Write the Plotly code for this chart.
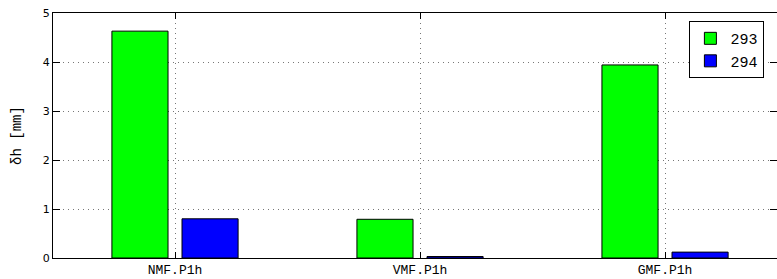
import plotly.graph_objects as go

categories = ["NMF.P1h", "VMF.P1h", "GMF.P1h"]
series_293 = [4.63, 0.79, 3.94]
series_294 = [0.80, 0.03, 0.12]
series_names = ["293", "294"]
colors = ["#00ff00", "#0000ff"]
y_ticks = [0, 1, 2, 3, 4, 5]

xpos = list(range(len(categories)))

fig = go.Figure()
for name, vals, col, off in zip(series_names, [series_293, series_294], colors, [-0.2575, 0.0285]):
    fig.add_trace(go.Bar(
        x=xpos, y=vals, name=name,
        marker=dict(color=col, line=dict(color="black", width=1)),
        width=0.229, offset=off,
    ))

grid_dash = "1px,4px"
fig.update_layout(
    width=777, height=279,
    margin=dict(l=53, r=0, t=13, b=21),
    paper_bgcolor="white", plot_bgcolor="white",
    barmode="overlay",
    showlegend=True,
    legend=dict(
        x=0.879, y=0.967, xanchor="left", yanchor="top",
        bordercolor="black", borderwidth=1, bgcolor="white",
        font=dict(family="Liberation Mono, monospace", size=15, color="black"),
        tracegroupgap=0, itemwidth=30,
    ),
)
fig.update_xaxes(
    range=[-0.498, 2.457],
    tickmode="array", tickvals=xpos, ticktext=categories,
    tickfont=dict(family="Liberation Mono", size=13, color="black"),
    ticklabelstandoff=-1,
    showline=True, linecolor="black", linewidth=1, mirror="ticks",
    ticks="inside", ticklen=6, tickcolor="black",
    showgrid=True, gridcolor="#777777", griddash=grid_dash, gridwidth=1,
    zeroline=False, automargin=False,
)
fig.update_yaxes(
    range=[0, 5],
    tickmode="array", tickvals=y_ticks,
    tickfont=dict(family="DejaVu Sans", size=11, color="black"),
    showline=True, linecolor="black", linewidth=1, mirror="ticks",
    ticks="inside", ticklen=7, tickcolor="black",
    showgrid=True, gridcolor="#777777", griddash=grid_dash, gridwidth=1,
    zeroline=False, automargin=False,
    title=dict(text="\u00a0\u00a0δh [mm]", font=dict(family="Liberation Mono", size=14, color="black"), standoff=17),
)

fig.write_html("out.html", config={"displayModeBar": False},
               post_script="document.body.style.margin='0px';document.body.style.overflow='hidden';")
